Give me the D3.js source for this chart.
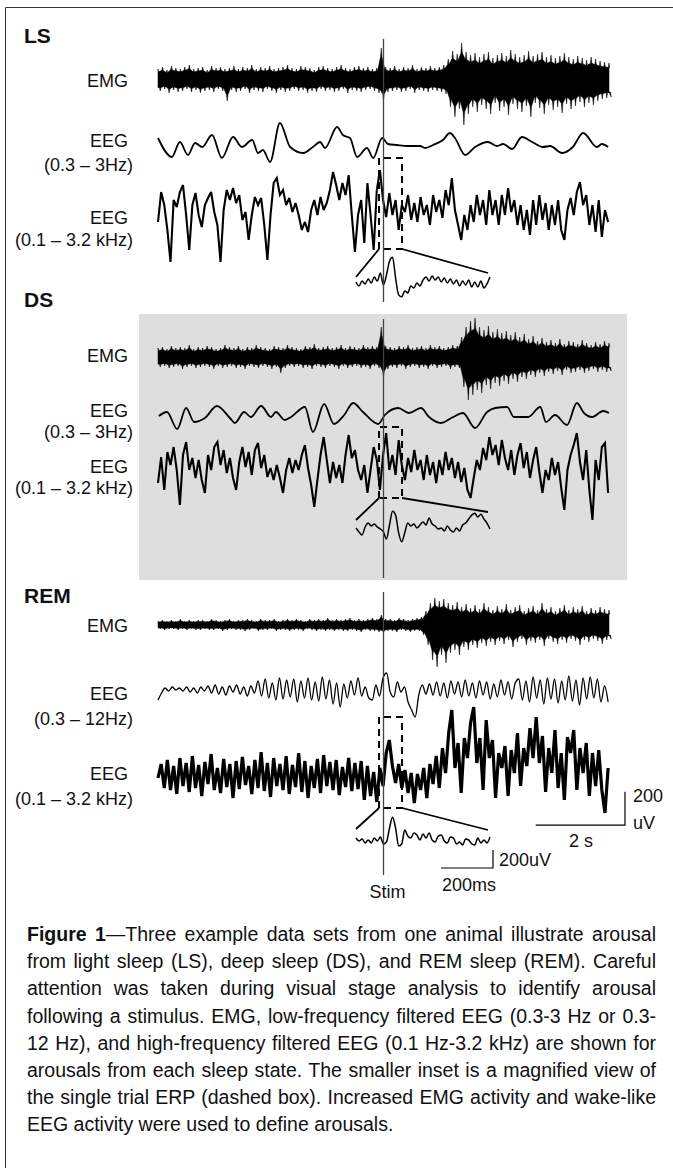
<!DOCTYPE html>
<html lang="en">
<head>
<meta charset="UTF-8">
<title>Figure 1 - arousal from sleep</title>
<style>
  body { margin: 0; background: #fff; }
  svg text { font-family: "Liberation Sans", Arial, sans-serif; fill: #111; }
  .state { font-size: 21px; font-weight: bold; }
  .lab { font-size: 18px; }
  .cap { font-size: 19.5px; }
</style>
</head>
<body>
<svg width="673" height="1168"></svg>
<script src="https://cdn.jsdelivr.net/npm/d3@7"></script>
<script>
// ---------- data (uV) ----------
const emgStep = 0.1;    // s between EMG envelope samples
const highStep = 0.07;  // s between wide-band EEG samples
const remLowStep = 0.08;
const insetStep = 515 / 44; // ms between inset samples

// EMG envelopes (upper / lower), one value every 0.1 s
const lsEmgUp = [60,72,54,78,66,60,72,84,60,66, 72,54,78,66,72,60,66,78,60,72, 66,84,60,72,66,78,60,66,72,84, 66,60,78,72,66,54,72,78,66,60, 72,84,66,60,72,78,66,72,60,66,
  186,72, 66,78,60,72,66,84,60,72,66,78,66,72,84, 120,168,150,216,162,144,
  156,132,150,162,126,144,156,138,174,150, 132,144,168,138,150,162,132,144,126,138, 156,132,120,138,126,114,132,120,108,102, 96];
const lsEmgLo = [-72,-60,-84,-66,-78,-72,-60,-78,-66,-84, -72,-66,-78,-60,-72,-132,-66,-78,-72,-60, -84,-66,-72,-78,-60,-72,-84,-66,-78,-72, -60,-72,-66,-84,-72,-78,-60,-72,-66,-78, -72,-60,-84,-66,-72,-78,-66,-60,-72,-84,
  -126,-78, -72,-66,-78,-72,-60,-84,-66,-72,-78,-66,-72,-78,-90, -168,-228,-180,-276,-210,-168,
  -198,-156,-180,-210,-144,-192,-168,-216,-150,-180, -198,-162,-228,-144,-174,-210,-156,-186,-168,-204, -150,-180,-162,-138,-168,-144,-156,-132,-120,-114, -108];
const dsEmgUp = [54,60,48,66,54,60,54,72,48,60, 54,66,60,48,54,72,60,54,66,48, 60,54,72,60,54,48,66,60,54,72, 60,54,48,66,60,78,54,60,66,54, 60,72,54,66,60,54,72,60,66,60,
  180,66, 60,54,66,60,72,54,60,66,54,72,60,66,54,60,72,66,
  120,180,216,234,180,162,186,150,168,144,156,132,150,120,138,
  108,126,96,114,90,102,84,108,78,96,90,78,102,84,72,90,78,96,84];
const dsEmgLo = [-60,-54,-66,-60,-54,-72,-60,-54,-66,-60, -54,-60,-72,-54,-66,-60,-54,-66,-60,-72, -54,-60,-66,-54,-60,-72,-60,-96,-66,-54, -60,-54,-66,-60,-72,-54,-60,-66,-54,-60, -72,-54,-66,-60,-54,-66,-60,-72,-54,-66,
  -120,-72, -60,-66,-54,-72,-60,-54,-66,-60,-72,-54,-66,-60,-54,-72,-60,-66,
  -180,-258,-228,-198,-216,-168,-192,-156,-174,-144,-162,-132,-150,-120,-132,
  -108,-120,-96,-114,-90,-102,-84,-108,-78,-96,-90,-78,-96,-84,-72,-90,-78,-90,-84];
const remEmgUp = [24,30,24,30,24,36,24,30,24,30, 30,24,36,30,24,30,36,24,30,30, 36,30,24,36,30,30,36,24,30,36, 30,36,30,24,36,30,36,30,42,30, 36,30,36,42,30,36,30,36,42,36,
  60,36, 36,30,42,36,30,36,42,
  48,84,132,162,144,156,132,120,138,108,126,102,120,96,132,108,90,
  114,96,126,90,108,120,84,102,114,90, 132,96,108,84,102,120,90,108,96,114, 84,102,90,108,96,90];
const remEmgLo = [-24,-30,-24,-24,-30,-24,-30,-24,-30,-30, -24,-30,-30,-24,-36,-30,-24,-30,-30,-36, -30,-24,-36,-30,-30,-24,-36,-30,-30,-36, -30,-30,-36,-24,-30,-36,-30,-36,-30,-36, -30,-36,-36,-30,-36,-42,-30,-36,-36,-42,
  -48,-36, -36,-42,-30,-36,-42,-36,-36,
  -60,-120,-210,-252,-180,-228,-168,-150,-180,-132,-150,-120,-138,-108,-126,-102,-120,
  -96,-114,-90,-132,-102,-84,-120,-96,-108,-90, -126,-84,-102,-114,-90,-108,-84,-96,-120,-90, -102,-84,-96,-114,-90,-84];

// low-frequency EEG: turning points (s, uV)
const lsLowT = [0,0.31,0.49,0.67,0.83,0.99,1.21,1.43,1.68,1.88, 2.11,2.24,2.35,2.51,2.73,2.96,3.25,3.47,3.63,3.74, 4.01,4.14,4.30,4.46,4.68,4.82,5.02,5.15,5.35,5.58, 5.87,5.98,6.16,6.38,6.54,6.65,6.88,7.10,7.39,7.59, 7.73,7.93,8.15,8.38,8.62,8.78,9.05,9.29,9.52,9.83, 9.94,10.08];
const lsLowV = [30,-84,6,-72,0,-24,48,-90,36,-24, 18,-60,-42,-114,120,-24,-60,-24,6,-30, 96,48,30,-84,-30,-90,30,-6,-12,-18, -18,-30,-12,18,60,30,-72,-24,6,-18, -6,-36,36,6,-24,-18,-60,-24,60,-24, -6,-24];
const dsLowT = [0.02,0.20,0.43,0.63,0.81,1.05,1.32,1.61,1.72,1.93, 2.08,2.31,2.53,2.64,2.84,2.98,3.29,3.47,3.72,3.94, 4.17,4.37,4.59,4.93,5.08,5.38,5.62,5.89,6.07,6.34, 6.61,6.83,7.10,7.37,7.55,7.82,7.97,8.29,8.56,8.69, 8.89,9.16,9.38,9.54,9.72,9.97,10.10];
const dsLowV = [-6,18,-84,42,-42,-18,54,-18,-48,18, -12,54,-12,18,-30,-12,48,-102,66,-54, 0,72,18,-54,0,42,12,42,-12,-48, -12,12,-78,18,42,48,-12,-12,48,-42, 0,-60,72,12,-12,24,12];
// REM 0.3-12 Hz, one value every 0.08 s
const remLowV = [-60,-18,12,-6,18,0, 12,-6,18,-12,12,-18,18,-6,
  24,-18,30,-24,18,-30,24,-12,30,-24,18,-36,24,-18,
  54,-36,66,-48,42,-60,72,-54,60,-42,66,-72,54,-48,72,-60,48,-66,78,-54,60,-84,42,-102,
  36,-48,54,-30,72,-36,18,-48,-60,
  30,-36,72,102,-12,-42,48,-12,18,-72,-120,-162,-30,30,-24,
  36,-30,48,-36,42,-48,54,-24,48,-42,60,-36,42,-48,54,-30,48,-54,36,-42,60,-30,48,-54,42,
  66,-60,54,-72,78,-48,60,-84,72,-54,66,-78,54,-60,84,-66,60,-90,72,-54,78,-48,66,-72,
  24,-72];

// wide-band EEG (0.1 Hz - 3.2 kHz), one value every 0.07 s
const lsHighV = [-54,126,48,-102,-294,78,36,126,168,-12, -222,48,120,-12,-84,48,90,126,6,-72, -294,18,138,78,150,60,108,-42,6,-162, -12,96,48,90,-72,-282,-12,180,210,108, 138,48,90,6,60,-12,-102,-54,-114,18, 78,-12,96,18,60,138,246,168,78,180, 108,228,-12,-234,-12,78,-180,180,-12,-222, 138,258,78,-24,120,-12,78,-102,48,6, 108,-42,60,-54,96,-12,48,-72,108,6, 78,-30,138,48,210,18,-72,-162,-12,-102, 48,-54,108,-12,78,-72,138,-12,78,-72, 108,-12,150,6,78,-72,48,-102,18,-132, 78,-72,108,-42,60,-102,48,-72,78,-102, -162,18,90,-12,126,186,48,108,-72,48, -114,78,-144,18,-54];
const dsHighV = [-90,66,-132,96,18,126,-12,-222,78,156, -12,60,-60,48,-72,-150,78,-12,126,156, 18,108,-30,60,-60,-132,36,126,6,96, -42,108,150,0,78,-54,0,-72,18,-60, -150,-12,60,-30,48,-12,78,138,0,-102, -234,-72,78,186,48,-90,36,-60,18,-90, 78,198,60,108,-12,-72,18,-150,-12,126, 48,-132,78,210,-12,78,-42,168,18,-72, 60,-24,108,-12,48,-72,78,-42,36,-90, 48,-42,96,-12,60,-60,36,-84,0,-132, -180,-60,48,-12,120,48,186,78,138,18, 168,60,-12,108,-42,78,150,0,96,-60, 48,126,-24,-150,-12,-72,60,-42,36,-120, -252,-12,78,138,210,36,-72,108,-132,-312, 48,-72,126,150,-150];
const remHighV = [0,84,-60,108,-72,72,-96,120,-48,90, -84,132,-60,78,-108,96,-36,144,-72,60, -90,114,-54,84,-120,102,-66,126,-42,72, -96,108,-60,156,-78,90,-114,120,-48,84, -72,132,-96,78,-54,150,-84,102,-120,72, -60,114,-90,138,-48,96,-72,108,-102,66, -54,120,-78,90,-66,102,-132,72,-108,
  36,-144,60,-48,150,228,72,-30,84,-60, 48,-90,30,-150,24,-72,60,-120,84,
  -36,132,-60,180,30,270,408,60,210,-90, 240,120,330,426,90,240,-72,348,120,228, -120,150,60,192,-108,168,30,270,-48,180, 72,300,120,366,90,252,-84,180,30,288, -60,150,-132,246,150,288,-72,180,30,210, -108,150,-48,168,-72,-210,60];

// single-trial ERP insets (uV), one value every ~11.7 ms over 515 ms
const lsInsetV = [11,-33,22,-11,44,0,66,22,110,-22, 88,242,286,55,-132,-154,-88,-110,-33,-55, 0,-33,33,66,22,77,33,66,11,55, 0,44,-11,33,-33,22,-22,33,-44,11, -44,22,-55,-11,66];
const dsInsetV = [-11,-55,-88,0,44,11,33,0,-22,-55, -132,22,176,132,-66,-165,-66,44,11,33, -11,22,55,22,99,33,11,-22,-11,-44, 11,-33,-55,-11,-44,22,44,88,132,154, 110,143,88,44,-22];
const remInsetV = [22,-11,11,-33,0,-33,22,-11,33,-44, -22,132,253,132,-66,-44,110,44,22,77, 55,0,66,22,77,0,-22,44,55,-11, -33,33,22,-44,-22,-55,11,0,-44,-55, 22,-33,0,-33,33];

const stimTime = 5.05;          // s
const boxWindow = [4.95, 5.465]; // s, dashed box = inset window
const totalTime = 10.1;

const captionLines = [
  ["Figure 1", "\u2014Three example data sets from one animal illustrate arousal"],
  ["", "from light sleep (LS), deep sleep (DS), and REM sleep (REM). Careful"],
  ["", "attention was taken during visual stage analysis to identify arousal"],
  ["", "following a stimulus. EMG, low-frequency filtered EEG (0.3-3 Hz or 0.3-"],
  ["", "12 Hz), and high-frequency filtered EEG (0.1 Hz-3.2 kHz) are shown for"],
  ["", "arousals from each sleep state. The smaller inset is a magnified view of"],
  ["", "the single trial ERP (dashed box). Increased EMG activity and wake-like"],
  ["", "EEG activity were used to define arousals."]
];

// ---------- layout ----------
const sections = [
  { name: "LS", nameY: 43, emgY: 79, lowY: 143, highY: 213, insetY: 283,
    emg: [lsEmgUp, lsEmgLo], low: { t: lsLowT, v: lsLowV }, high: lsHighV, inset: lsInsetV,
    lowLabel: "(0.3 \u2013 3Hz)", labY: [87, 147, 171, 224, 246],
    stim: [39, 302], box: [158, 249], link: [277, 273], highW: 2.1 },
  { name: "DS", nameY: 307, emgY: 357, lowY: 415, highY: 468, insetY: 527,
    emg: [dsEmgUp, dsEmgLo], low: { t: dsLowT, v: dsLowV }, high: dsHighV, inset: dsInsetV,
    lowLabel: "(0.3 \u2013 3Hz)", labY: [362, 417, 438, 473, 494],
    stim: [319, 578], box: [427, 498], link: [520, 512], highW: 2.1 },
  { name: "REM", nameY: 603, emgY: 625, lowY: 690, highY: 778, insetY: 840,
    emg: [remEmgUp, remEmgLo], low: { step: remLowStep, v: remLowV }, high: remHighV, inset: remInsetV,
    lowLabel: "(0.3 \u2013 12Hz)", labY: [632, 700, 725, 780, 805],
    stim: [592, 875], box: [717, 808], link: [829, 830], highW: 3.2 }
];

const svg = d3.select("svg");
const x = d3.scaleLinear().domain([0, totalTime]).range([158, 609]);
const uv = cy => d3.scaleLinear().domain([-200, 200]).range([cy + 33.3, cy - 33.3]);
const ix = d3.scaleLinear().domain([0, 515]).range([356, 490]);
const iuv = cy => d3.scaleLinear().domain([-200, 200]).range([cy + 18, cy - 18]);

// frame (only top and left edges are inside the picture)
svg.append("path").attr("d", "M5.5,1168V7.5H673")
  .attr("fill", "none").attr("stroke", "#333").attr("stroke-width", 1);

// grey background behind deep sleep
svg.append("rect").attr("x", 139).attr("y", 314).attr("width", 488).attr("height", 266)
  .attr("fill", "#dedede");

// each envelope sample drawn as a thin spike over a solid core
const core = 0.72, spikeHalf = 0.016;
function emgOutline(up, lo) {
  const top = [], bottom = [];
  up.forEach((u, i) => {
    const t = i * emgStep;
    top.push([t - spikeHalf, u * core], [t, u], [t + spikeHalf, u * core]);
    const tb = t + emgStep / 2;
    bottom.push([tb - spikeHalf, lo[i] * core], [tb, lo[i]], [tb + spikeHalf, lo[i] * core]);
  });
  top[0][0] = 0;
  bottom[bottom.length - 1][0] = Math.min(bottom[bottom.length - 1][0], totalTime);
  return top.concat([[totalTime, up[up.length - 1] * core], [totalTime, lo[lo.length - 1] * core]],
    bottom.reverse(), [[0, lo[0] * core]]);
}

sections.forEach(s => {
  const g = svg.append("g");

  g.append("text").attr("class", "state").attr("x", 24).attr("y", s.nameY).text(s.name);

  const labels = [["EMG", 128], ["EEG", 128], [s.lowLabel, 133], ["EEG", 128], ["(0.1 \u2013 3.2 kHz)", 133]];
  labels.forEach((l, i) => {
    g.append("text").attr("class", "lab").attr("x", l[1]).attr("y", s.labY[i])
      .attr("text-anchor", "end").text(l[0]);
  });

  // EMG envelope
  const ye = uv(s.emgY);
  g.append("path").datum(emgOutline(s.emg[0], s.emg[1]))
    .attr("d", d => d3.line().x(p => x(p[0])).y(p => ye(p[1]))(d) + "Z")
    .attr("fill", "#000").attr("stroke", "#000").attr("stroke-width", 0.5);

  // low-frequency EEG
  const yl = uv(s.lowY);
  const lowPts = s.low.t ? s.low.t.map((t, i) => [t, s.low.v[i]])
                         : s.low.v.map((v, i) => [i * s.low.step, v]);
  g.append("path").datum(lowPts)
    .attr("d", d3.line().curve(d3.curveMonotoneX).x(d => x(d[0])).y(d => yl(d[1])))
    .attr("fill", "none").attr("stroke", "#000")
    .attr("stroke-width", s.low.t ? 1.8 : 1.3);

  // wide-band EEG
  const yh = uv(s.highY);
  g.append("path").datum(s.high)
    .attr("d", d3.line().x((d, i) => x(i * highStep)).y(d => yh(d)))
    .attr("fill", "none").attr("stroke", "#000").attr("stroke-width", s.highW)
    .attr("stroke-linejoin", "miter").attr("stroke-miterlimit", 3);

  // dashed box around the ERP window
  const bx0 = x(boxWindow[0]), bx1 = x(boxWindow[1]);
  g.append("path")
    .attr("d", `M${bx0},${s.box[1]}V${s.box[0]}H${bx1}V${s.box[1]}H${bx0}`)
    .attr("fill", "none").attr("stroke", "#000").attr("stroke-width", 2)
    .attr("stroke-dasharray", "7,5");

  // lines to the inset
  g.append("path")
    .attr("d", `M${bx0},${s.box[1]}L${ix(0)},${s.link[0]}M${bx1},${s.box[1]}L${ix(515) - 2},${s.link[1]}`)
    .attr("fill", "none").attr("stroke", "#000").attr("stroke-width", 1.8);

  // inset trace
  const yi = iuv(s.insetY);
  g.append("path").datum(s.inset)
    .attr("d", d3.line().curve(d3.curveMonotoneX).x((d, i) => ix(i * insetStep)).y(d => yi(d)))
    .attr("fill", "none").attr("stroke", "#000").attr("stroke-width", 1.5);

  // stimulus marker
  g.append("line").attr("x1", x(stimTime)).attr("x2", x(stimTime))
    .attr("y1", s.stim[0]).attr("y2", s.stim[1])
    .attr("stroke", "#444").attr("stroke-width", 1.3);
});

// scale bars
const sb = svg.append("g").attr("fill", "none").attr("stroke", "#000").attr("stroke-width", 1.2);
const ys = uv(808.5);
sb.append("path").attr("d",
  `M${x(totalTime) - (x(2) - x(0)) + 16},${ys(-100)}H${x(totalTime) + 16}V${ys(100)}`);
const yis = iuv(859);
sb.append("path").attr("d",
  `M${ix(515) + 3 - (ix(200) - ix(0))},${yis(-100)}H${ix(515) + 3}V${yis(100)}`);

const txt = (t, xx, yy, anchor) => svg.append("text").attr("class", "lab")
  .attr("x", xx).attr("y", yy).attr("text-anchor", anchor || "start").text(t);
txt("200", 633, 802);
txt("uV", 633, 829);
txt("2 s", 581, 847, "middle");
txt("200uV", 499, 866);
txt("200ms", 442, 891);
txt("Stim", x(stimTime) + 4, 898, "middle");

// caption, justified
const capLeft = 27, capWidth = 629;
captionLines.forEach((ln, i) => {
  const t = svg.append("text").attr("class", "cap").attr("x", capLeft).attr("y", 941 + i * 27.2);
  if (ln[0]) t.append("tspan").attr("font-weight", "bold").text(ln[0]);
  t.append("tspan").text(ln[1]);
  if (i < captionLines.length - 1) {
    const nat = t.node().getComputedTextLength();
    const spaces = (ln[0] + ln[1]).split(" ").length - 1;
    t.attr("word-spacing", (capWidth - nat) / spaces);
  }
});
</script>
</body>
</html>
